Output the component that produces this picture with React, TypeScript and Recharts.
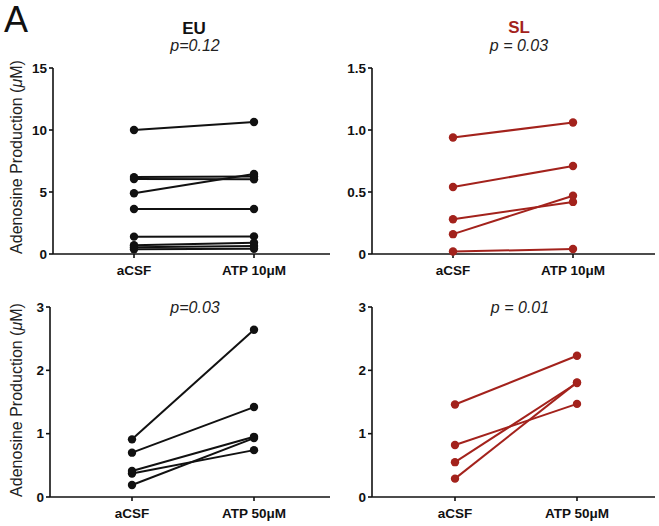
import React from 'react';
import { LineChart, Line, XAxis, YAxis } from 'recharts';

const EU_COLOR = '#111111';
const SL_COLOR = '#a3221c';

const cats10 = ['aCSF', 'ATP 10μM'];
const cats50 = ['aCSF', 'ATP 50μM'];

// EU, ATP 10µM (top left)
const euBase10 = [10.0, 6.2, 6.05, 4.9, 3.63, 1.4, 0.7, 0.55, 0.38];
const euAtp10 = [10.65, 6.25, 6.02, 6.45, 3.63, 1.42, 0.9, 0.65, 0.42];

// SL, ATP 10µM (top right)
const slBase10 = [0.94, 0.54, 0.28, 0.16, 0.02];
const slAtp10 = [1.06, 0.71, 0.42, 0.47, 0.04];

// EU, ATP 50µM (bottom left)
const euBase50 = [0.91, 0.7, 0.41, 0.37, 0.19];
const euAtp50 = [2.64, 1.42, 0.95, 0.74, 0.93];

// SL, ATP 50µM (bottom right)
const slBase50 = [1.46, 0.82, 0.55, 0.29];
const slAtp50 = [2.23, 1.47, 1.8, 1.81];

const font = '"Liberation Sans", Arial, Helvetica, sans-serif';

interface PanelProps {
    left: number;
    top: number;
    width: number;
    height: number;
    marginTop: number;
    marginRight: number;
    yWidth: number;
    xHeight: number;
    padLeft: number;
    padRight: number;
    categories: string[];
    before: number[];
    after: number[];
    color: string;
    domain: [number, number];
    ticks: number[];
    fmt?: (v: number) => string;
}

function Panel(p: PanelProps) {
    const rows = p.categories.map((c, ci) => {
        const row: Record<string, string | number> = { name: c };
        const src = ci === 0 ? p.before : p.after;
        src.forEach((v, i) => {
            row[`s${i}`] = v;
        });
        return row;
    });
    const axisStroke = { stroke: '#111', strokeWidth: 1.6 };
    return (
        <div style={{ position: 'absolute', left: p.left, top: p.top }}>
            <LineChart
                width={p.width}
                height={p.height}
                data={rows}
                margin={{ top: p.marginTop, right: p.marginRight, left: 0, bottom: 0 }}
            >
                <XAxis
                    dataKey="name"
                    height={p.xHeight}
                    padding={{ left: p.padLeft, right: p.padRight }}
                    axisLine={axisStroke}
                    tickLine={axisStroke}
                    tickSize={4}
                    tickMargin={7}
                    tick={{ fontSize: 13.5, fontWeight: 700, fill: '#111', fontFamily: font }}
                />
                <YAxis
                    width={p.yWidth}
                    domain={p.domain}
                    ticks={p.ticks}
                    tickFormatter={p.fmt}
                    axisLine={axisStroke}
                    tickLine={axisStroke}
                    tickSize={4}
                    tickMargin={2}
                    tick={{ fontSize: 13.5, fontWeight: 700, fill: '#111', fontFamily: font }}
                />
                {p.before.map((_, i) => (
                    <Line
                        key={i}
                        dataKey={`s${i}`}
                        stroke={p.color}
                        strokeWidth={2}
                        dot={{ r: 4.2, fill: p.color, stroke: p.color, strokeWidth: 0 }}
                        activeDot={false}
                        isAnimationActive={false}
                    />
                ))}
            </LineChart>
        </div>
    );
}

const label = (x: number, y: number, text: React.ReactNode, style: React.CSSProperties) => (
    <div
        style={{
            position: 'absolute',
            left: x - 100,
            top: y,
            width: 200,
            textAlign: 'center',
            whiteSpace: 'nowrap',
            ...style,
        }}
    >
        {text}
    </div>
);

const yTitle = (cy: number) => (
    <div
        style={{
            position: 'absolute',
            left: 17 - 110,
            top: cy - 10,
            width: 220,
            height: 20,
            lineHeight: '20px',
            textAlign: 'center',
            fontSize: 16,
            color: '#222',
            transform: 'rotate(-90deg)',
            whiteSpace: 'nowrap',
        }}
    >
        Adenosine Production (<i>μ</i>M)
    </div>
);

export default function App() {
    const oneDec = (v: number) => (v === 0 ? '0' : v.toFixed(1));
    return (
        <div
            style={{
                position: 'absolute',
                left: 0,
                top: 0,
                width: 659,
                height: 526,
                background: '#fff',
                fontFamily: font,
                overflow: 'hidden',
            }}
        >
            <div style={{ position: 'absolute', left: 4, top: -2, fontSize: 36, color: '#111', lineHeight: '44px' }}>
                A
            </div>
            {label(194, 19, 'EU', { fontSize: 17, fontWeight: 700, color: '#111' })}
            {label(195, 37, 'p=0.12', { fontSize: 16, fontStyle: 'italic', color: '#222' })}
            {label(519, 18, 'SL', { fontSize: 17, fontWeight: 700, color: SL_COLOR })}
            {label(519, 37, 'p = 0.03', { fontSize: 16, fontStyle: 'italic', color: '#222' })}
            {label(195, 299, 'p=0.03', { fontSize: 16, fontStyle: 'italic', color: '#222' })}
            {label(520, 299, 'p = 0.01', { fontSize: 16, fontStyle: 'italic', color: '#222' })}
            {yTitle(157)}
            {yTitle(400)}

            <Panel
                left={0}
                top={0}
                width={330}
                height={285}
                marginTop={68}
                marginRight={0}
                yWidth={53}
                xHeight={31}
                padLeft={81}
                padRight={76}
                categories={cats10}
                before={euBase10}
                after={euAtp10}
                color={EU_COLOR}
                domain={[0, 15]}
                ticks={[0, 5, 10, 15]}
            />
            <Panel
                left={330}
                top={0}
                width={329}
                height={285}
                marginTop={68}
                marginRight={4}
                yWidth={42}
                xHeight={31}
                padLeft={81}
                padRight={82}
                categories={cats10}
                before={slBase10}
                after={slAtp10}
                color={SL_COLOR}
                domain={[0, 1.5]}
                ticks={[0, 0.5, 1, 1.5]}
                fmt={oneDec}
            />
            <Panel
                left={0}
                top={285}
                width={330}
                height={241}
                marginTop={22}
                marginRight={0}
                yWidth={50}
                xHeight={29}
                padLeft={82}
                padRight={76}
                categories={cats50}
                before={euBase50}
                after={euAtp50}
                color={EU_COLOR}
                domain={[0, 3]}
                ticks={[0, 1, 2, 3]}
            />
            <Panel
                left={330}
                top={285}
                width={329}
                height={241}
                marginTop={22}
                marginRight={4}
                yWidth={42}
                xHeight={29}
                padLeft={83}
                padRight={78}
                categories={cats50}
                before={slBase50}
                after={slAtp50}
                color={SL_COLOR}
                domain={[0, 3]}
                ticks={[0, 1, 2, 3]}
            />
        </div>
    );
}
